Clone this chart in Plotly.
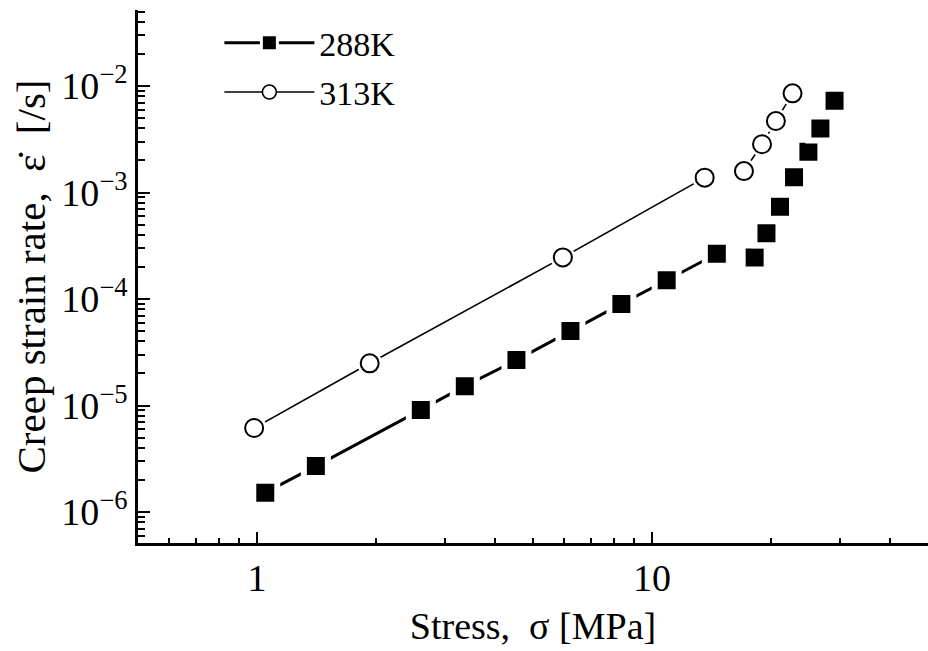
import math
import plotly.graph_objects as go

# ---- data ----
stress_288_low = [1.05, 1.41, 2.60, 3.36, 4.54, 6.22, 8.37, 10.9, 14.6]
rate_288_low = [1.52e-6, 2.70e-6, 9.1e-6, 1.52e-5, 2.67e-5, 5.0e-5, 9.0e-5, 1.50e-4, 2.66e-4]
stress_288_high = [18.2, 19.5, 21.1, 22.9, 24.9, 26.7, 29.0]
rate_288_high = [2.46e-4, 4.14e-4, 7.36e-4, 1.39e-3, 2.42e-3, 4.0e-3, 7.28e-3]

stress_313_low = [0.984, 1.93, 5.95, 13.6]
rate_313_low = [6.15e-6, 2.49e-5, 2.46e-4, 1.38e-3]
stress_313_high = [17.1, 19.0, 20.6, 22.7]
rate_313_high = [1.59e-3, 2.84e-3, 4.69e-3, 8.54e-3]

x_tickvals = [1, 10]
x_ticktext = ["1", "10"]
y_tickvals = [1e-6, 1e-5, 1e-4, 1e-3, 1e-2]
y_ticktext = ["10<sup>\u22126</sup>", "10<sup>\u22125</sup>", "10<sup>\u22124</sup>",
              "10<sup>\u22123</sup>", "10<sup>\u22122</sup>"]

FONT = "Liberation Serif"

fig = go.Figure()

# 288K: filled squares with white halo to create the gap around the line
sq = dict(symbol="square", size=24, color="black", line=dict(color="white", width=6))
for xs, ys in [(stress_288_low, rate_288_low), (stress_288_high, rate_288_high)]:
    fig.add_trace(go.Scatter(x=xs, y=ys, mode="lines+markers", name="288K",
                             showlegend=False, line=dict(color="black", width=3),
                             marker=sq))

# 313K: open circles, thin line, with white halos
for xs, ys in [(stress_313_low, rate_313_low), (stress_313_high, rate_313_high)]:
    fig.add_trace(go.Scatter(x=xs, y=ys, mode="lines", showlegend=False,
                             line=dict(color="black", width=1.6), hoverinfo="skip"))
for xs, ys in [(stress_313_low, rate_313_low), (stress_313_high, rate_313_high)]:
    fig.add_trace(go.Scatter(x=xs, y=ys, mode="markers", showlegend=False,
                             marker=dict(symbol="circle", size=25, color="white",
                                         line=dict(width=0)), hoverinfo="skip"))
for xs, ys in [(stress_313_low, rate_313_low), (stress_313_high, rate_313_high)]:
    fig.add_trace(go.Scatter(x=xs, y=ys, mode="markers", name="313K", showlegend=False,
                             marker=dict(symbol="circle", size=18, color="white",
                                         line=dict(color="black", width=2))))

# legend entries
fig.add_trace(go.Scatter(x=[None], y=[None], mode="lines+markers", name="288K",
                         legendgroup="a", line=dict(color="black", width=3),
                         marker=dict(symbol="square", size=16, color="black",
                                     line=dict(color="white", width=3))))
fig.add_trace(go.Scatter(x=[None], y=[None], mode="lines+markers", name="313K",
                         legendgroup="b", line=dict(color="black", width=1.6),
                         marker=dict(symbol="circle", size=14, color="white",
                                     line=dict(color="black", width=1.6))))

fig.update_layout(
    width=928, height=651,
    margin=dict(l=138, r=0, t=10, b=108),
    paper_bgcolor="white", plot_bgcolor="white",
    font=dict(family=FONT, size=36, color="black"),
    showlegend=True,
    legend=dict(x=0.103, y=0.992, xanchor="left", yanchor="top",
                bgcolor="rgba(0,0,0,0)", itemwidth=90, tracegroupgap=2,
                font=dict(family=FONT, size=34)),
    xaxis=dict(
        type="log", range=[math.log10(0.5), math.log10(50)], automargin=False,
        showline=True, linecolor="black", linewidth=2.5, mirror=False,
        showgrid=False, zeroline=False,
        tickvals=x_tickvals, ticktext=x_ticktext,
        ticks="inside", ticklen=11, tickwidth=2, tickcolor="black",
        minor=dict(ticks="inside", ticklen=5, tickwidth=2, tickcolor="black",
                   dtick="D1", showgrid=False),
        tickfont=dict(family=FONT, size=38),
        title=dict(text="Stress,  \u03c3 [MPa]", font=dict(family=FONT, size=38)),
    ),
    yaxis=dict(
        type="log", range=[-6.291, -1.286], automargin=True,
        showline=True, linecolor="black", linewidth=2.5, mirror=False,
        showgrid=False, zeroline=False,
        tickvals=y_tickvals, ticktext=y_ticktext,
        ticks="inside", ticklen=12, tickwidth=2, tickcolor="black",
        minor=dict(ticks="inside", ticklen=7, tickwidth=2, tickcolor="black",
                   dtick="D1", showgrid=False),
        tickfont=dict(family=FONT, size=38),
        title=dict(text="Creep strain rate,  \u03b5\u0307  [/s]",
                   font=dict(family=FONT, size=41), standoff=4),
    ),
)

fig.write_html("out.html", config={"displayModeBar": False},
               post_script="document.body.style.margin='0px';"
                           "document.body.style.overflow='hidden';"
                           "document.documentElement.style.overflow='hidden';")
